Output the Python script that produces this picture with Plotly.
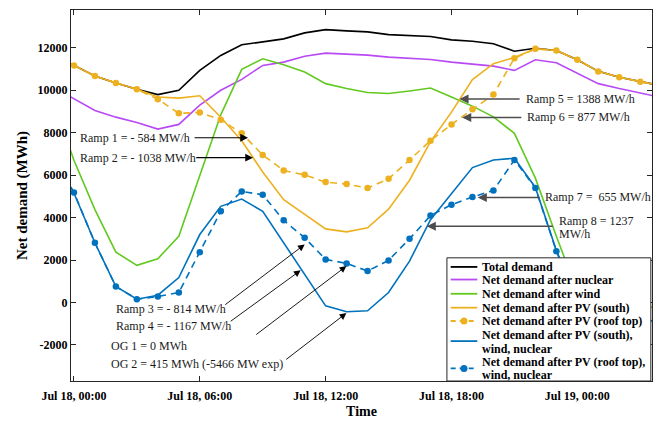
import plotly.graph_objects as go
import pandas as pd

# ---------------- data (hourly, Jul 18 00:00 = hour 0) ----------------
hours = list(range(-1, 29))

total_demand = [11670, 11169, 10668, 10340, 10044, 9796, 9998, 10935, 11638, 12139,
                12270, 12420, 12702, 12857, 12796, 12749, 12622, 12590, 12528, 12374,
                12308, 12186, 11839, 11980, 11872, 11436, 10888, 10607, 10405, 10215]
after_nuclear = [10150, 9600, 9046, 8732, 8483, 8170, 8390, 9294, 9997, 10513,
                 11170, 11324, 11605, 11746, 11699, 11652, 11558, 11511, 11450, 11324,
                 11216, 11137, 10935, 11436, 11296, 10808, 10311, 10077, 9890, 9663]
after_wind = [9500, 6700, 4373, 2372, 1748, 2062, 3121, 5967, 8842, 10982,
              11480, 11200, 10855, 10311, 10077, 9890, 9843, 9965, 10105, 9683,
              9250, 8746, 7968, 5859, 3121, 500, 0, -150, -220, -250]
after_pv_south = [11670, 11169, 10668, 10340, 10044, 9684, 9630, 9740, 8730, 7620,
                  6145, 4842, 4138, 3468, 3328, 3515, 4396, 5760, 7574, 8966,
                  10506, 11249, 11545, 11952, 11872, 11436, 10888, 10607, 10405, 10215]
after_pv_roof = [11670, 11169, 10668, 10340, 10044, 9575, 8915, 8950, 8610, 7970,
                 6950, 6215, 6013, 5671, 5577, 5390, 5826, 6716, 7621, 8390,
                 9107, 9796, 11511, 11952, 11872, 11436, 10888, 10607, 10405, 10215]
after_pv_south_wind_nuc = [6900, 5155, 2812, 750, 155, 342, 1172, 3201, 4528, 4874,
                           4293, 2800, 1350, -160, -440, -394, 469, 1950, 3900, 5150,
                           6356, 6716, 6796, 5418, 2450, 100, -500, -750, -850, -880]
after_pv_roof_wind_nuc = [6900, 5184, 2812, 750, 155, 281, 469, 2372, 4293, 5231,
                          5076, 3871, 3047, 2029, 1842, 1481, 1983, 3000, 4092, 4607,
                          4968, 5277, 6716, 5390, 2419, 50, -550, -780, -840, -870]

series_names = ["Total demand", "Net demand after nuclear", "Net demand after wind",
                "Net demand after PV (south)", "Net demand after PV (roof top)",
                "Net demand after PV (south),|wind, nuclear",
                "Net demand after PV (roof top),|wind, nuclear"]

y_ticks = [-2000, 0, 2000, 4000, 6000, 8000, 10000, 12000]
y_tick_labels = ["-2000", "0", "2000", "4000", "6000", "8000", "10000", "12000"]
x_tick_hours = [0, 6, 12, 18, 24]

# annotation texts with (text hour, text value)
ann_texts = ["Ramp 1 = - 584 MW/h", "Ramp 2 = - 1038 MW/h", "Ramp 3 = - 814 MW/h",
             "Ramp 4 = - 1167 MW/h", "OG 1 = 0 MWh", "OG 2 = 415 MWh (-5466 MW exp)",
             "Ramp 5 = 1388 MW/h", "Ramp 6 = 877 MW/h", "Ramp 7 =  655 MW/h",
             "Ramp 8 = 1237", "MW/h"]
ann_text_pos = [(0.25, 7734), (0.25, 6824), (1.95, -314), (1.95, -1125), (1.71, -2062),
                (1.71, -2892), (21.51, 9590), (21.56, 8718), (22.40, 4949), (23.10, 3857),
                (23.10, 3234)]
# arrows: tail (hour, value) -> head (hour, value)
arrow_tail = [(5.68, 7762), (5.76, 6824), (7.14, -159), (7.40, -937), (8.62, -1565),
              (10.05, -2737), (21.32, 9590), (21.40, 8718), (22.27, 4949), (22.90, 3590)]
arrow_head = [(8.30, 7762), (8.54, 6824), (11.0, 2733), (10.81, 1514), (12.99, 1715),
              (12.99, -501), (18.38, 9590), (18.51, 8718), (19.25, 4949), (16.82, 3590)]

# ---------------- styling ----------------
FONT = "Liberation Serif"
C_BLACK = "#000000"
C_PURPLE = "#B84AF5"
C_GREEN = "#62C91F"
C_ORANGE = "#EDB120"
C_BLUE = "#0072BD"
AX = "#262626"

base = pd.Timestamp("2021-07-18 00:00")


def t(h):
    return base + pd.Timedelta(hours=h)


times = [t(h) for h in hours]

fig = go.Figure()

styles = [
    (total_demand, C_BLACK, None, False),
    (after_nuclear, C_PURPLE, None, False),
    (after_wind, C_GREEN, None, False),
    (after_pv_south, C_ORANGE, None, False),
    (after_pv_roof, C_ORANGE, "7px,5px", True),
    (after_pv_south_wind_nuc, C_BLUE, None, False),
    (after_pv_roof_wind_nuc, C_BLUE, "7px,5px", True),
]
for (vals, col, dash, mk), name in zip(styles, series_names):
    fig.add_trace(go.Scatter(
        x=times, y=vals, name=name.replace("|", " "),
        mode="lines+markers" if mk else "lines",
        line=dict(color=col, width=1.6, dash=dash if dash else "solid"),
        marker=dict(size=6.5, color=col),
        showlegend=False, hoverinfo="skip"))

annotations = []
shapes = []

for txt, (th, tv) in zip(ann_texts, ann_text_pos):
    annotations.append(dict(x=t(th), y=tv, xref="x", yref="y", text=txt,
                            showarrow=False, xanchor="left", yanchor="middle",
                            align="left", borderpad=0,
                            font=dict(family=FONT, size=12, color="#1a1a1a")))
for i, ((ah, av), (hh, hv)) in enumerate(zip(arrow_tail, arrow_head)):
    if i < 2:
        col, w, s = "#000000", 1.2, 1.3
    elif i < 6:
        col, w, s = "#000000", 0.9, 1.5
    else:
        col, w, s = "#4d4d4d", 1.4, 1.3
    annotations.append(dict(x=t(hh), y=hv, ax=t(ah), ay=av, xref="x", yref="y",
                            axref="x", ayref="y", text="", showarrow=True,
                            arrowhead=2, arrowsize=s, arrowwidth=w, arrowcolor=col,
                            standoff=0, startstandoff=0))

# ---------------- compact legend drawn like the original ----------------
leg_box = (0.647, 0.0, 0.998, 0.332)
shapes.append(dict(type="rect", xref="paper", yref="paper", x0=leg_box[0], y0=leg_box[1],
                   x1=leg_box[2], y1=leg_box[3], fillcolor="white",
                   line=dict(color=AX, width=1), layer="above"))
leg_sym_y = [0.3075, 0.2735, 0.2351, 0.1976, 0.1617, 0.1075, 0.0340]
leg_line_y = [[0.3075], [0.2735], [0.2351], [0.1976], [0.1617], [0.1233, 0.0869],
              [0.0509, 0.0150]]
sx0, sx1, smid, tx = 0.6535, 0.6993, 0.6764, 0.7055
for (vals, col, dash, mk), name, sy, lys in zip(styles, series_names, leg_sym_y, leg_line_y):
    shapes.append(dict(type="line", xref="paper", yref="paper", x0=sx0, x1=sx1, y0=sy, y1=sy,
                       line=dict(color=col, width=1.8, dash="5px,4px" if dash else "solid"),
                       layer="above"))
    if mk:
        shapes.append(dict(type="circle", xref="paper", yref="paper", xsizemode="pixel",
                           ysizemode="pixel", xanchor=smid, yanchor=sy, x0=-3.5, x1=3.5,
                           y0=-3.5, y1=3.5, fillcolor=col, line=dict(color=col, width=0),
                           layer="above"))
    for part, ly in zip(name.split("|"), lys):
        annotations.append(dict(x=tx, y=ly, xref="paper", yref="paper", text=part,
                                showarrow=False, xanchor="left", yanchor="middle",
                                align="left", borderpad=0,
                                font=dict(family=FONT, size=12, color="#000000",
                                          weight="bold")))

fig.update_layout(
    width=665, height=425,
    margin=dict(l=71, r=13, t=9, b=43),
    paper_bgcolor="white", plot_bgcolor="white",
    font=dict(family=FONT, size=12, color="#000000"),
    showlegend=False,
    annotations=annotations, shapes=shapes,
    xaxis=dict(
        type="date", range=[t(-0.14), t(27.56)],
        tickvals=[t(h) for h in x_tick_hours], tickformat="%b %d, %H:%M",
        ticks="inside", ticklen=5, tickcolor=AX, mirror="allticks",
        showline=True, linecolor=AX, linewidth=1, showgrid=False, zeroline=False,
        ticklabelstandoff=4,
        tickfont=dict(family=FONT, size=12, color="#000000", weight="bold"),
        title=dict(text="Time", font=dict(family=FONT, size=14, weight="bold"), standoff=3),
    ),
    yaxis=dict(
        range=[-3700, 13780], tickvals=y_ticks, ticktext=y_tick_labels,
        ticks="inside", ticklen=5, tickcolor=AX, mirror="allticks",
        showline=True, linecolor=AX, linewidth=1, showgrid=False, zeroline=False,
        tickfont=dict(family=FONT, size=12, color="#000000", weight="bold"),
        title=dict(text="Net demand (MWh)", font=dict(family=FONT, size=15, weight="bold"),
                   standoff=6),
    ),
)

fig.write_html("out.html", config={"displayModeBar": False},
               post_script="document.body.style.margin='0px';document.body.style.overflow='hidden';")
